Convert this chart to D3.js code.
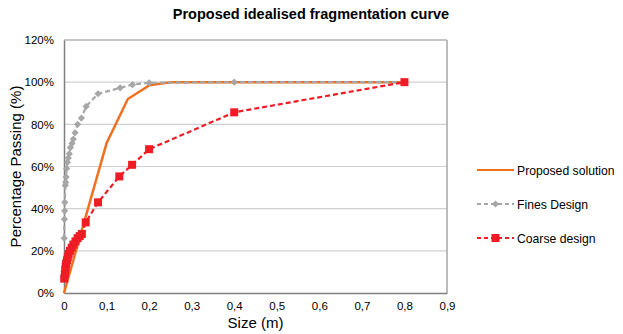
<!DOCTYPE html>
<html>
<head>
<meta charset="utf-8">
<script src="https://cdn.jsdelivr.net/npm/d3@7"></script>
<style>
  body { margin: 0; background: #fff; }
  text { font-family: "Liberation Sans", Arial, sans-serif; }
</style>
</head>
<body>
<div id="chart"></div>
<script>
// x tick values and y tick values
const xTicks = [0, 0.1, 0.2, 0.3, 0.4, 0.5, 0.6, 0.7, 0.8, 0.9];
const yTicks = [0, 0.2, 0.4, 0.6, 0.8, 1.0, 1.2];

// Proposed solution (size m, passing fraction)
const proposedX = [0, 0.1, 0.15, 0.2, 0.25, 0.8];
const proposedY = [0, 0.71, 0.92, 0.985, 1.0, 1.0];

// Fines design
const finesX = [0.0005, 0.001, 0.0015, 0.002, 0.003, 0.004, 0.005, 0.006, 0.008, 0.01, 0.0125, 0.015, 0.019, 0.022, 0.026, 0.032, 0.041, 0.052, 0.08, 0.132, 0.161, 0.2, 0.4, 0.8];
const finesY = [0.26, 0.35, 0.39, 0.43, 0.51, 0.525, 0.55, 0.59, 0.62, 0.64, 0.66, 0.69, 0.71, 0.73, 0.76, 0.80, 0.83, 0.885, 0.945, 0.973, 0.988, 0.997, 1.0, 1.0];

// Coarse design
const coarseX = [0.0005, 0.002, 0.003, 0.004, 0.005, 0.007, 0.009, 0.011, 0.014, 0.018, 0.022, 0.027, 0.032, 0.037, 0.042, 0.051, 0.08, 0.13, 0.16, 0.2, 0.4, 0.8];
const coarseY = [0.068, 0.09, 0.11, 0.125, 0.14, 0.155, 0.17, 0.185, 0.20, 0.215, 0.23, 0.245, 0.26, 0.27, 0.28, 0.335, 0.43, 0.553, 0.608, 0.682, 0.857, 1.0];

const width = 623, height = 334;
const margin = { top: 40, right: 176, bottom: 41, left: 64 };

const svg = d3.select("#chart").append("svg").attr("width", width).attr("height", height);

const x = d3.scaleLinear().domain([0, 0.9]).range([margin.left, width - margin.right]);
const y = d3.scaleLinear().domain([0, 1.2]).range([height - margin.bottom, margin.top]);

// title
svg.append("text").attr("x", 311).attr("y", 19).attr("text-anchor", "middle")
    .attr("font-size", "14.5px").attr("font-weight", "bold").attr("fill", "#000")
    .text("Proposed idealised fragmentation curve");

// gridlines
svg.append("g").selectAll("line").data(yTicks.slice(1)).join("line")
    .attr("x1", x(0)).attr("x2", x(0.9))
    .attr("y1", d => y(d)).attr("y2", d => y(d))
    .attr("stroke", "#d0d0d0").attr("stroke-width", 1.2);

// right border and top border
svg.append("line").attr("x1", x(0.9)).attr("x2", x(0.9)).attr("y1", y(1.2)).attr("y2", y(0))
    .attr("stroke", "#a6a6a6").attr("stroke-width", 1.5);
svg.append("line").attr("x1", x(0)).attr("x2", x(0.9)).attr("y1", y(1.2)).attr("y2", y(1.2))
    .attr("stroke", "#a6a6a6").attr("stroke-width", 1.2);

// axes
const fmtX = d => d3.format(".1f")(d).replace(".", ",").replace(/^0,0$/, "0");
const xAxis = svg.append("g").attr("transform", `translate(0,${y(0)})`)
    .call(d3.axisBottom(x).tickValues(xTicks).tickSize(0).tickPadding(9).tickFormat(fmtX));
const yAxis = svg.append("g").attr("transform", `translate(${x(0)},0)`)
    .call(d3.axisLeft(y).tickValues(yTicks).tickSize(0).tickPadding(10).tickFormat(d3.format(".0%")));
[xAxis, yAxis].forEach(a => {
    a.select(".domain").attr("stroke", "#7f7f7f").attr("stroke-width", 1.5);
    a.selectAll("text").attr("font-size", "11.5px").attr("fill", "#000")
        .attr("font-family", "'Liberation Sans', Arial, sans-serif");
});

// axis titles
svg.append("text").attr("x", (x(0) + x(0.9)) / 2).attr("y", 328).attr("text-anchor", "middle")
    .attr("font-size", "15px").attr("fill", "#000").text("Size (m)");
svg.append("text").attr("transform", `translate(21,${(y(0) + y(1.2)) / 2}) rotate(-90)`)
    .attr("text-anchor", "middle").attr("font-size", "15px").attr("fill", "#000")
    .text("Percentage Passing (%)");

const line = d3.line().x(d => x(d[0])).y(d => y(d[1]));
const zip = (a, b) => a.map((v, i) => [v, b[i]]);

const orange = "#f07022", gray = "#a6a6a6", red = "#ee1c24";

// proposed solution
svg.append("path").datum(zip(proposedX, proposedY)).attr("d", line)
    .attr("fill", "none").attr("stroke", orange).attr("stroke-width", 2.5);

// fines design
const fines = zip(finesX, finesY);
svg.append("path").datum(fines).attr("d", line)
    .attr("fill", "none").attr("stroke", gray).attr("stroke-width", 2.2).attr("stroke-dasharray", "5,3");
// diamond = square turned 45 degrees
const diamond = d3.symbol().type(d3.symbolSquare).size(26);
svg.append("g").selectAll("path").data(fines).join("path")
    .attr("d", diamond).attr("transform", d => `translate(${x(d[0])},${y(d[1])}) rotate(45)`)
    .attr("fill", gray);

// coarse design
const coarse = zip(coarseX, coarseY);
svg.append("path").datum(coarse).attr("d", line)
    .attr("fill", "none").attr("stroke", red).attr("stroke-width", 2.2).attr("stroke-dasharray", "5,3");
svg.append("g").selectAll("rect").data(coarse).join("rect")
    .attr("x", d => x(d[0]) - 4).attr("y", d => y(d[1]) - 4)
    .attr("width", 8).attr("height", 8).attr("fill", red);

// legend
const legend = svg.append("g").attr("transform", "translate(477,0)");
const items = [
    { name: "Proposed solution", color: orange, dash: null, marker: null, yy: 170 },
    { name: "Fines Design", color: gray, dash: "4,3", marker: "diamond", yy: 204 },
    { name: "Coarse design", color: red, dash: "4,3", marker: "square", yy: 238 }
];
items.forEach(it => {
    legend.append("line").attr("x1", 0).attr("x2", 37).attr("y1", it.yy).attr("y2", it.yy)
        .attr("stroke", it.color).attr("stroke-width", 2.2).attr("stroke-dasharray", it.dash);
    if (it.marker === "diamond") {
        legend.append("path").attr("d", diamond).attr("transform", `translate(18.5,${it.yy}) rotate(45)`).attr("fill", it.color);
    } else if (it.marker === "square") {
        legend.append("rect").attr("x", 14.5).attr("y", it.yy - 4).attr("width", 8).attr("height", 8).attr("fill", it.color);
    }
    legend.append("text").attr("x", 40).attr("y", it.yy + 5).attr("font-size", "12.2px").attr("fill", "#000").text(it.name);
});
</script>
</body>
</html>
